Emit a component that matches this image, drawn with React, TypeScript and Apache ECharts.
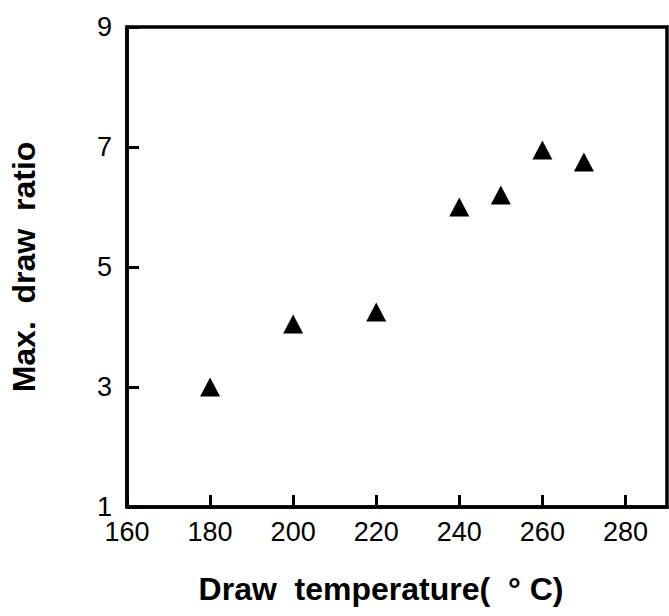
import React, { useEffect, useRef } from "react";
import * as echarts from "echarts";

const temperatures = [180, 200, 220, 240, 250, 260, 270];
const drawRatios = [3.0, 4.05, 4.25, 6.0, 6.2, 6.95, 6.75];
const xTitle = "Draw  temperature(  ° C)";
const yTitle = "Max.  draw  ratio";

export default function App() {
  const ref = useRef<HTMLDivElement>(null);
  useEffect(() => {
    document.body.style.margin = "0";
    const chart = echarts.init(ref.current!, null, { renderer: "svg" });
    const font = "'Liberation Sans', Arial, Helvetica, sans-serif";
    const tick = { show: true, inside: true, length: 12, lineStyle: { color: "#000", width: 3 } };
    const line = { show: true, onZero: false, lineStyle: { color: "#000", width: 3.5 } };
    chart.setOption({
      animation: false,
      backgroundColor: "#ffffff",
      grid: {
        left: 125,
        top: 27,
        width: 542,
        height: 480,
        show: true,
        borderColor: "#000",
        borderWidth: 3.5,
        backgroundColor: "transparent",
      },
      xAxis: {
        type: "value",
        min: 160,
        max: 290,
        interval: 20,
        name: xTitle,
        nameLocation: "middle",
        nameGap: 66,
        nameTextStyle: {
          fontFamily: font,
          fontSize: 32,
          fontWeight: "bold",
          color: "#000",
          padding: [0, 32, 0, 0],
        },
        axisLine: line,
        axisTick: tick,
        axisLabel: {
          showMaxLabel: false,
          margin: 11,
          fontFamily: font,
          fontSize: 27,
          color: "#000",
        },
        splitLine: { show: false },
      },
      yAxis: {
        type: "value",
        min: 1,
        max: 9,
        interval: 2,
        name: yTitle,
        nameLocation: "middle",
        nameRotate: 90,
        nameGap: 87,
        nameTextStyle: {
          fontFamily: font,
          fontSize: 32,
          fontWeight: "bold",
          color: "#000",
        },
        axisLine: line,
        axisTick: tick,
        axisLabel: {
          margin: 15,
          fontFamily: font,
          fontSize: 27,
          color: "#000",
        },
        splitLine: { show: false },
      },
      series: [
        {
          type: "scatter",
          data: temperatures.map((t, i) => [t, drawRatios[i]]),
          symbol: "triangle",
          symbolSize: [20, 19],
          itemStyle: { color: "#000", opacity: 1 },
        },
      ],
    });
    return () => chart.dispose();
  }, []);
  return (
    <div
      ref={ref}
      style={{ position: "fixed", left: 0, top: 0, width: 669, height: 616, background: "#fff" }}
    />
  );
}
